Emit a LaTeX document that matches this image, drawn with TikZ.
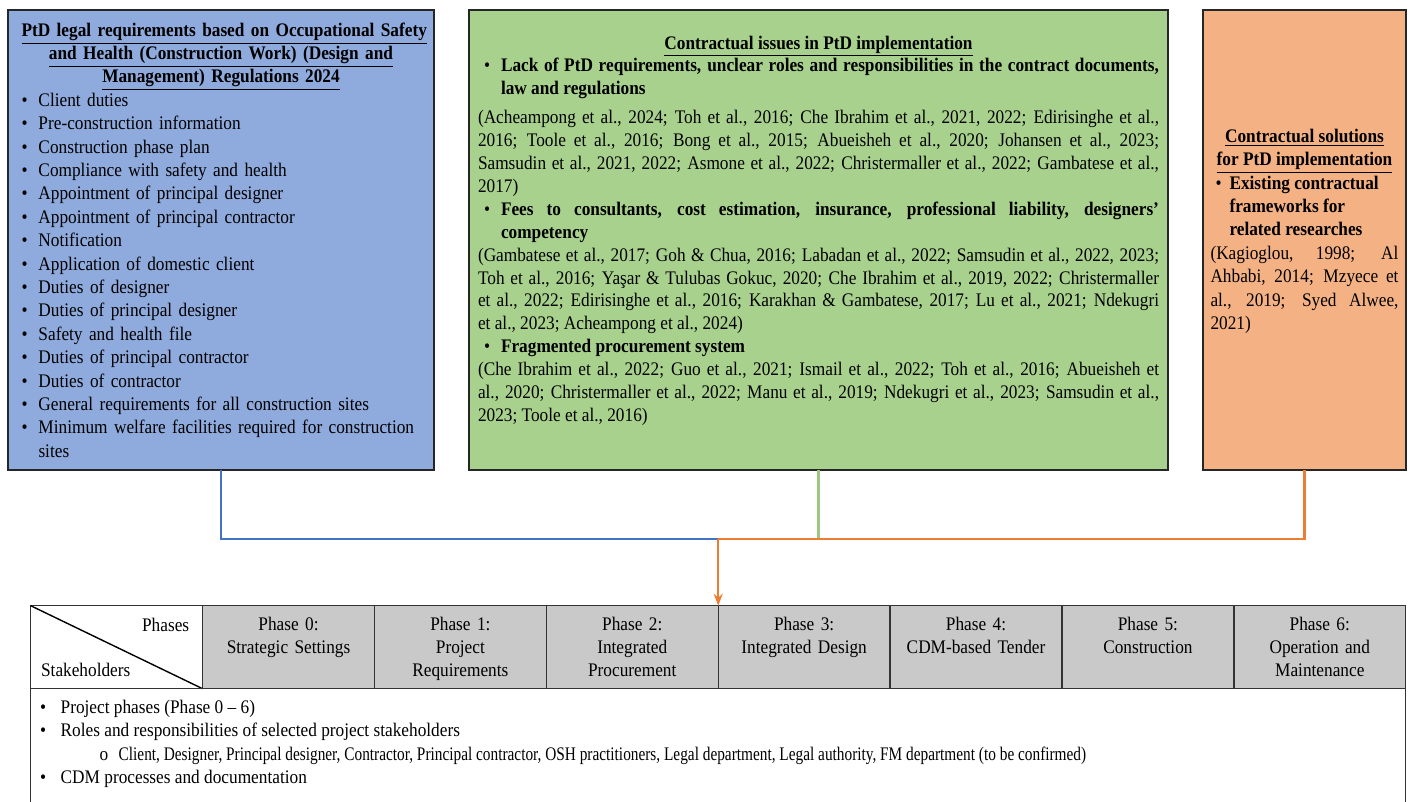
\documentclass[tikz,border=0pt]{standalone}
\usepackage{fontspec}
\usepackage{graphicx}
\setmainfont[FakeStretch=0.9]{Liberation Serif}
\usetikzlibrary{positioning,calc,matrix,arrows.meta}

\definecolor{legalblue}{RGB}{143,170,220}
\definecolor{issuegreen}{RGB}{169,209,142}
\definecolor{solorange}{RGB}{244,177,131}
\definecolor{hdrgray}{RGB}{201,201,201}
\definecolor{lineblue}{RGB}{68,114,196}
\definecolor{linegreen}{RGB}{157,199,127}
\definecolor{lineorange}{RGB}{237,125,49}

\setlength{\parindent}{0pt}
\tolerance=9999
\hyphenpenalty=10000

\newlength{\itemind}
\newcommand{\pitem}[2][0pt]{\par\noindent\hangindent=\itemind\hangafter=1\makebox[\itemind][l]{\hspace*{#1}\textbullet}#2\par}
\newcommand{\oitem}[1]{\par\noindent\hangindent=40.25pt\hangafter=1\makebox[40.25pt][l]{\hspace*{30.75pt}o}#1\par}

\tikzset{
  txt/.style={font=\fontsize{9.6pt}{11.7pt}\selectfont},
  topbox/.style={txt, draw=black!85, line width=0.8pt, minimum height=230pt, inner xsep=0pt, inner ysep=0pt, outer sep=0pt, anchor=north west},
  cornercell/.style={draw=black!80, line width=0.7pt, fill=white, minimum width=85.94pt, minimum height=41.5pt, outer sep=0pt, anchor=center},
  phasecell/.style={font=\fontsize{9.6pt}{11.5pt}\selectfont, draw=black!80, line width=0.7pt, fill=hdrgray, minimum width=85.94pt, minimum height=41.5pt, text width=80pt, align=center, inner sep=1pt, outer sep=0pt, anchor=center,
    execute at begin node={\rule{0pt}{8.6pt}}, execute at end node={\rule[-2.1pt]{0pt}{0pt}}},
  joinline/.style={line width=1.1pt},
}

\begin{document}
\begin{tikzpicture}[x=0.5pt,y=-0.5pt]
\useasboundingbox (0,0) rectangle (1410,802);

\node[topbox, fill=legalblue, minimum width=213pt, text width=199.5pt, align=left] (legal) at (8,10) {%
  \setlength{\itemind}{8.5pt}%
  {\centering\bfseries\underline{PtD legal requirements based on Occupational Safety}\\
   \underline{and Health (Construction Work) (Design and}\\
   \underline{Management) Regulations 2024}\par}
  \pitem{Client duties}
  \pitem{Pre-construction information}
  \pitem{Construction phase plan}
  \pitem{Compliance with safety and health}
  \pitem{Appointment of principal designer}
  \pitem{Appointment of principal contractor}
  \pitem{Notification}
  \pitem{Application of domestic client}
  \pitem{Duties of designer}
  \pitem{Duties of principal designer}
  \pitem{Safety and health file}
  \pitem{Duties of principal contractor}
  \pitem{Duties of contractor}
  \pitem{General requirements for all construction sites}
  \pitem{Minimum welfare facilities required for construction sites}};

\node[topbox, font=\fontsize{9.6pt}{11.45pt}\selectfont, fill=issuegreen, minimum width=349.5pt, text width=340.5pt, align=justify] (issues) at ([xshift=17.5pt]legal.north east) {%
  \setlength{\itemind}{11.5pt}%
  {\centering\bfseries\underline{Contractual issues in PtD implementation}\par}
  \pitem[3pt]{\textbf{Lack of PtD requirements, unclear roles and responsibilities in the contract documents,\linebreak law and regulations}}
  \vspace{3pt}
  (Acheampong et al., 2024; Toh et al., 2016; Che Ibrahim et al., 2021, 2022; Edirisinghe et al.,\linebreak
  2016; Toole et al., 2016; Bong et al., 2015; Abueisheh et al., 2020; Johansen et al., 2023;\linebreak
  Samsudin et al., 2021, 2022; Asmone et al., 2022; Christermaller et al., 2022; Gambatese et al.,\linebreak
  2017)\par
  \pitem[3pt]{\textbf{Fees to consultants, cost estimation, insurance, professional liability, designers’\linebreak competency}}
  (Gambatese et al., 2017; Goh \& Chua, 2016; Labadan et al., 2022; Samsudin et al., 2022, 2023;\linebreak
  Toh et al., 2016; Yaşar \& Tulubas Gokuc, 2020; Che Ibrahim et al., 2019, 2022; Christermaller\linebreak
  et al., 2022; Edirisinghe et al., 2016; Karakhan \& Gambatese, 2017; Lu et al., 2021; Ndekugri\linebreak
  et al., 2023; Acheampong et al., 2024)\par
  \pitem[3pt]{\textbf{Fragmented procurement system}}
  (Che Ibrahim et al., 2022; Guo et al., 2021; Ismail et al., 2022; Toh et al., 2016; Abueisheh et\linebreak
  al., 2020; Christermaller et al., 2022; Manu et al., 2019; Ndekugri et al., 2023; Samsudin et al.,\linebreak
  2023; Toole et al., 2016)\par\null};

\node[topbox, fill=solorange, minimum width=101.5pt, text width=94pt, align=justify] (solutions) at ([xshift=17.5pt]issues.north east) {%
  \setlength{\itemind}{9.5pt}%
  {\centering\bfseries\underline{Contractual solutions}\\
   \underline{for PtD implementation}\par}
  \pitem[2.5pt]{\textbf{Existing contractual\newline frameworks for\newline related researches}}
  (Kagioglou, 1998; Al\linebreak Ahbabi, 2014; Mzyece et\linebreak al., 2019; Syed Alwee,\linebreak 2021)\par\vskip-1pt\null};

\matrix (phases) [anchor=north west, inner sep=0pt, outer sep=0pt, column sep=-0.7pt, ampersand replacement=\&] at (30,605) {
  \node[cornercell] (corner) {}; \&
  \node[phasecell] (ph0) {Phase 0:\\Strategic Settings\\~}; \&
  \node[phasecell] (ph1) {Phase 1:\\Project\\Requirements}; \&
  \node[phasecell] (ph2) {Phase 2:\\Integrated\\Procurement}; \&
  \node[phasecell] (ph3) {Phase 3:\\Integrated Design\\~}; \&
  \node[phasecell] (ph4) {Phase 4:\\CDM-based Tender\\~}; \&
  \node[phasecell] (ph5) {Phase 5:\\Construction\\~}; \&
  \node[phasecell] (ph6) {Phase 6:\\Operation and\\Maintenance}; \\
};
\draw [line width=0.7pt] (corner.north west) -- (corner.south east);
\node[txt, anchor=north east, inner xsep=6.5pt, inner ysep=6pt] (phlab) at (corner.north east) {Phases};
\node[txt, anchor=south west, inner xsep=5pt, inner ysep=6pt] (stlab) at (corner.south west) {Stakeholders};

\node[txt, draw=black!80, line width=0.7pt, anchor=north west, inner xsep=0pt, inner ysep=5.75pt, minimum width=687.5pt, outer sep=0pt] (body) at (corner.south west) {%
  \parbox[t][62pt][t]{680pt}{\setlength{\itemind}{11.25pt}%
  \pitem[1pt]{Project phases (Phase 0 -- 6)}
  \pitem[1pt]{Roles and responsibilities of selected project stakeholders}
  \oitem{\scalebox{0.887}[1]{Client, Designer, Principal designer, Contractor, Principal contractor, OSH practitioners, Legal department, Legal authority, FM department (to be confirmed)}}
  \pitem[1pt]{CDM processes and documentation}}};

\path (ph3.north west) ++(0,-67) coordinate (merge);
\draw [joinline, lineblue] (legal.south) |- (merge);
\draw [joinline, linegreen] (issues.south) -- (issues.south |- merge);
\draw [joinline, lineorange] (solutions.south) |- (merge);
\draw [joinline, lineorange, -{Stealth[length=6pt,width=4.5pt]}] (merge) -- (ph3.north west);
\end{tikzpicture}
\end{document}
